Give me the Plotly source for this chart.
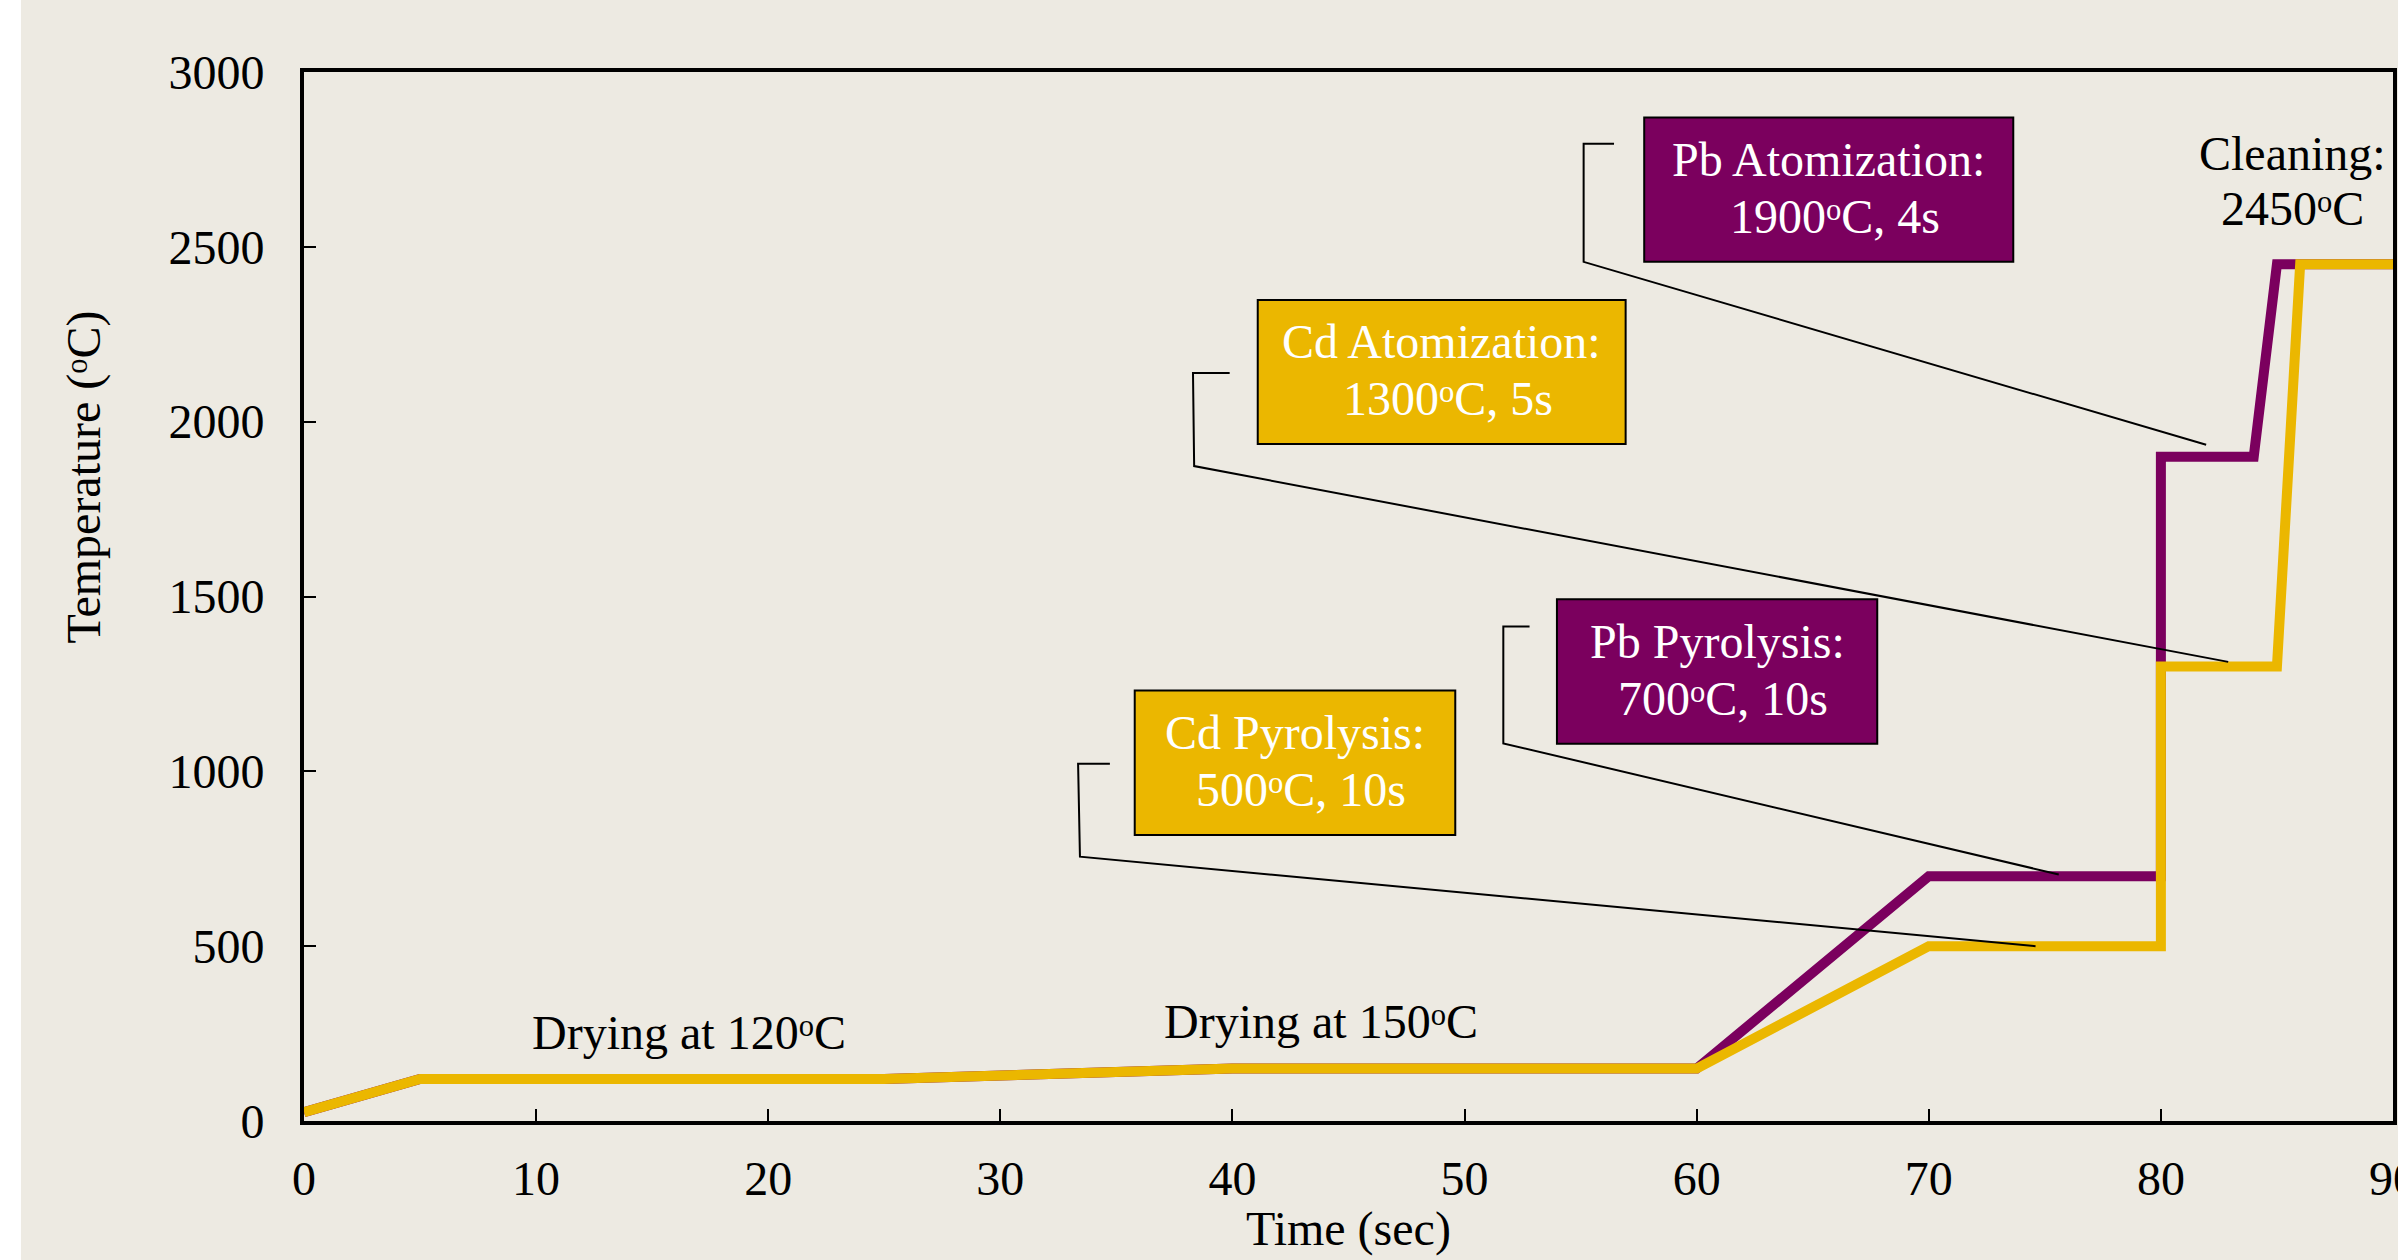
import plotly.graph_objects as go

# ---------------- data ----------------
time_pb = [0, 5, 25, 40, 60, 70, 80, 80, 84, 85, 90]
temp_pb = [25, 120, 120, 150, 150, 700, 700, 1900, 1900, 2450, 2450]

time_cd = [0, 5, 25, 40, 60, 70, 80, 80, 85, 86, 90]
temp_cd = [25, 120, 120, 150, 150, 500, 500, 1300, 1300, 2450, 2450]

x_ticks = [0, 10, 20, 30, 40, 50, 60, 70, 80, 90]
y_ticks = [0, 500, 1000, 1500, 2000, 2500, 3000]

DEG = "<sup><sub><span style='font-size:130%'>o</span></sub></sup>"
box_lines = [
    ("Pb Atomization:", "1900" + DEG + "C, 4s"),
    ("Cd Atomization:", "1300" + DEG + "C, 5s"),
    ("Pb Pyrolysis:", "700" + DEG + "C, 10s"),
    ("Cd Pyrolysis:", "500" + DEG + "C, 10s"),
]
cleaning_lines = ("Cleaning:", "2450" + DEG + "C")
drying_labels = ["Drying at 120" + DEG + "C", "Drying at 150" + DEG + "C"]

# ---------------- styles / positions ----------------
PURPLE = "#7B005E"
GOLD = "#EBB700"
BG = "#EDEAE2"
FONT = "Liberation Serif"
FS = 48

# box geometry in data coords: (x0, x1, y0, y1), leader path points, fill colour
box_geo = [
    ((57.74, 73.64, 2457, 2870), [(56.44, 2795), (55.13, 2795), (55.13, 2457), (81.95, 1934)], PURPLE),
    ((41.09, 56.94, 1936, 2348), [(39.88, 2139), (38.3, 2139), (38.35, 1873), (82.9, 1313)], GOLD),
    ((53.98, 67.78, 1079, 1492), [(52.8, 1414), (51.67, 1414), (51.67, 1080), (75.6, 705)], PURPLE),
    ((35.79, 49.6, 818, 1231), [(34.72, 1022), (33.35, 1022), (33.43, 756), (74.6, 500)], GOLD),
]
LINE_UP = 86     # data offset of first text line above box centre
LINE_DOWN = 76   # data offset of second text line below box centre
cleaning_pos = (85.65, 2768, 2610)
drying_pos = [(16.6, 252), (43.8, 284)]

fig = go.Figure()

fig.add_trace(go.Scatter(
    x=time_pb, y=temp_pb, mode="lines",
    line=dict(color=PURPLE, width=10), showlegend=False, hoverinfo="skip",
))
fig.add_trace(go.Scatter(
    x=time_cd, y=temp_cd, mode="lines",
    line=dict(color=GOLD, width=10), showlegend=False, hoverinfo="skip",
))

shapes = [
    # page background with thin white strip at left
    dict(type="rect", xref="paper", yref="paper", x0=-0.1355, x1=1.05, y0=-0.3, y1=1.2,
         fillcolor=BG, line=dict(width=0), layer="below"),
]
annotations = []


def txt(x, y, text, color, xshift=0):
    return dict(x=x, y=y, xref="x", yref="y", text=text, showarrow=False,
                xanchor="center", yanchor="middle", align="center", xshift=xshift,
                font=dict(family=FONT, size=FS, color=color))


for (geo, path, fill), (l1, l2) in zip(box_geo, box_lines):
    x0, x1, y0, y1 = geo
    shapes.append(dict(type="rect", xref="x", yref="y", x0=x0, x1=x1, y0=y0, y1=y1,
                       fillcolor=fill, line=dict(color="black", width=2), layer="above"))
    d = "M " + " L ".join(f"{px},{py}" for px, py in path)
    shapes.append(dict(type="path", xref="x", yref="y", path=d,
                       line=dict(color="black", width=2), layer="above"))
    cx, cy = (x0 + x1) / 2, (y0 + y1) / 2
    annotations.append(txt(cx, cy + LINE_UP, l1, "white"))
    annotations.append(txt(cx, cy - LINE_DOWN, l2, "white", xshift=6))

annotations.append(txt(cleaning_pos[0], cleaning_pos[1], cleaning_lines[0], "black"))
annotations.append(txt(cleaning_pos[0], cleaning_pos[2], cleaning_lines[1], "black"))
for (px, py), label in zip(drying_pos, drying_labels):
    annotations.append(txt(px, py, label, "black"))

# axis titles
annotations.append(dict(x=-0.1055, y=0.614, xref="paper", yref="paper",
                        text="Temperature (" + DEG + "C)", textangle=-90, showarrow=False,
                        xanchor="center", yanchor="middle",
                        font=dict(family=FONT, size=FS, color="black")))
annotations.append(dict(x=0.5, y=-0.103, xref="paper", yref="paper",
                        text="Time (sec)", showarrow=False,
                        xanchor="center", yanchor="middle",
                        font=dict(family=FONT, size=FS, color="black")))

axis_common = dict(
    showline=True, linecolor="black", linewidth=4, mirror=True,
    ticks="inside", ticklen=12, tickwidth=2, tickcolor="black",
    showgrid=False, zeroline=False, ticklabeloverflow="allow", automargin=False,
    tickfont=dict(family=FONT, size=FS, color="black"),
)

fig.update_layout(
    width=2398, height=1260,
    margin=dict(l=304, r=5, t=72, b=139, autoexpand=False),
    paper_bgcolor="white", plot_bgcolor=BG,
    shapes=shapes, annotations=annotations,
    xaxis=dict(range=[0, 90], tickvals=x_ticks, ticklabelstandoff=12, **axis_common),
    yaxis=dict(range=[0, 3000], tickvals=y_ticks, ticklabelstandoff=26, **axis_common),
    showlegend=False,
)

fig.write_html("out.html", config={"displayModeBar": False},
               post_script="document.body.style.margin='0';")
